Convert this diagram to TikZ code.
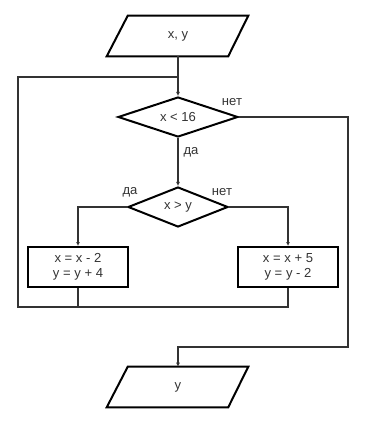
\documentclass[tikz,border=0pt]{standalone}
\usepackage{fontspec}
\setmainfont{Liberation Sans}
\usetikzlibrary{shapes.geometric,arrows.meta,calc}
\definecolor{ln}{HTML}{333333}
\begin{document}
\begin{tikzpicture}[x=0.75pt,y=-0.75pt,
  every node/.style={font=\fontsize{9.8}{11}\selectfont, text=ln},
  boxstyle/.style={draw=black, line width=1.5pt, rectangle, minimum width=75pt, minimum height=30pt, inner sep=0pt, align=center},
  iobox/.style={draw=none, rectangle, minimum width=75pt, minimum height=30pt, inner sep=0pt},
  decision/.style={draw=black, line width=1.5pt, diamond, aspect=3, inner sep=0pt},
  outline/.style={draw=black, line width=1.5pt},
  conn/.style={draw=ln, line width=1pt, -{Latex[length=3pt,width=3pt]}},
  plain/.style={draw=ln, line width=1pt},
  lbl/.style={inner sep=0pt}]
\useasboundingbox (0,0) rectangle (368,427);
% nodes
\node[iobox] (in) at (178,36) {x, y};
\draw[outline] ($(in.north west)$) -- ($(in.north east)+(20,0)$) -- (in.south east) -- ($(in.south west)+(-21,0)$) -- cycle;
\node[decision, minimum width=90pt, minimum height=30pt] (d1) at (178,117) {x < 16};
\node[decision, minimum width=75pt, minimum height=30pt] (d2) at (178,207) {x > y};
\node[boxstyle] (lbox) at (78,267) {x = x - 2\\y = y + 4};
\node[boxstyle] (rbox) at (288,267) {x = x + 5\\y = y - 2};
\node[iobox] (out) at (178,387) {y};
\draw[outline] ($(out.north west)$) -- ($(out.north east)+(20,0)$) -- (out.south east) -- ($(out.south west)+(-21,0)$) -- cycle;
% coordinates
\coordinate (m) at (178,77);
\coordinate (j) at (78,307);
\coordinate (cl) at (18,307);
\coordinate (c1) at (348,347);
% connectors
\draw[conn] (in.south) -- (d1.north);
\draw[conn] (d1.south) -- (d2.north);
\draw[conn] (d2.west) -| (lbox.north);
\draw[conn] (d2.east) -| (rbox.north);
\draw[plain] (rbox.south) |- (j);
\draw[plain] (lbox.south) -- (j) -- (cl) |- (m);
\draw[conn] (d1.east) -| (c1) -| (out.north);
% labels
\node[lbl] (n1) at (232,102) {нет};
\node[lbl] (y1) at (191,152) {да};
\node[lbl] (y2) at (130,192) {да};
\node[lbl] (n2) at (222,192) {нет};
\end{tikzpicture}
\end{document}
